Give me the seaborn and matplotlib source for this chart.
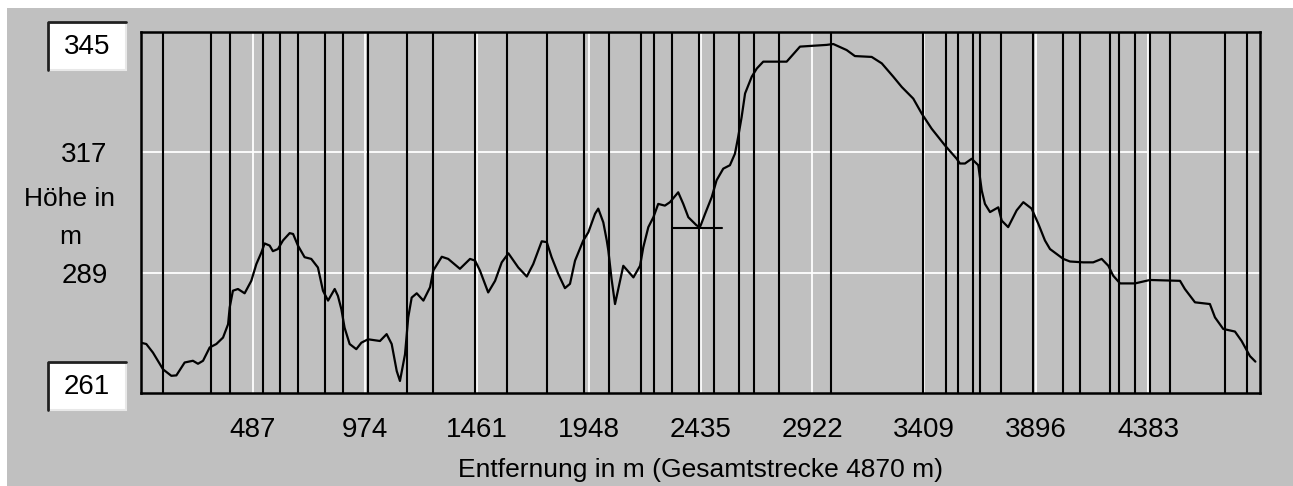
import numpy as np
import matplotlib.pyplot as plt
import matplotlib.patches as mpatches
import seaborn as sns

# Höhenprofil (Entfernung in m, Höhe in m)
entfernung = [0, 23, 52, 96, 132, 154, 190, 226, 248, 270, 299, 328, 357, 379, 386, 400,
              422, 451, 480, 502, 524, 538, 560, 574, 596, 618, 647, 662, 683, 712, 741,
              770, 792, 814, 843, 857, 872, 886, 908, 937, 959, 988, 1040, 1069, 1091,
              1113, 1127, 1149, 1163, 1178, 1200, 1229, 1258, 1272, 1309, 1337, 1388,
              1432, 1454, 1475, 1511, 1541, 1570, 1599, 1642, 1679, 1707, 1744, 1766,
              1787, 1816, 1845, 1867, 1889, 1925, 1947, 1976, 1990, 2012, 2027, 2034,
              2048, 2063, 2099, 2143, 2172, 2186, 2208, 2230, 2251, 2280, 2302, 2338,
              2360, 2382, 2418, 2433, 2455, 2484, 2505, 2534, 2563, 2585, 2599, 2614,
              2629, 2658, 2680, 2708, 2810, 2868, 2984, 3013, 3071, 3107, 3180, 3224,
              3274, 3311, 3361, 3398, 3441, 3499, 3550, 3564, 3586, 3615, 3644, 3659,
              3673, 3695, 3731, 3746, 3774, 3811, 3840, 3876, 3905, 3934, 3956, 4014,
              4043, 4101, 4144, 4181, 4210, 4231, 4261, 4326, 4391, 4522, 4543, 4587,
              4652, 4674, 4710, 4761, 4790, 4826, 4850]
hoehe = [272.7, 272.4, 270.4, 266.5, 265.0, 265.1, 268.1, 268.5, 267.8, 268.5, 271.6,
         272.4, 273.9, 277.0, 280.9, 284.8, 285.2, 284.2, 287.1, 291.0, 293.7, 295.8,
         295.3, 294.0, 294.5, 296.5, 298.2, 298.0, 295.3, 292.6, 292.2, 290.2, 284.8,
         282.5, 285.2, 283.6, 280.5, 276.2, 272.4, 271.2, 272.7, 273.5, 273.1, 274.7,
         272.4, 266.1, 263.8, 270.0, 278.6, 283.2, 284.2, 282.5, 285.6, 289.5, 292.7,
         292.2, 289.9, 292.2, 291.8, 289.5, 284.4, 287.1, 291.4, 293.5, 290.2, 288.1,
         291.0, 296.3, 296.1, 292.6, 288.7, 285.4, 286.4, 291.8, 296.5, 298.4, 302.7,
         303.9, 300.7, 296.5, 294.1, 287.5, 281.7, 290.6, 287.9, 290.6, 294.9, 299.6,
         301.9, 305.0, 304.6, 305.4, 307.7, 305.0, 301.9, 300.0, 299.6, 302.7, 306.6,
         310.5, 313.2, 314.0, 316.7, 320.6, 325.2, 330.7, 334.6, 336.5, 338.1, 338.1,
         341.6, 342.0, 342.2, 340.8, 339.4, 339.2, 337.7, 334.6, 332.2, 329.5, 326.0,
         322.5, 318.6, 315.5, 314.4, 314.4, 315.5, 314.0, 308.1, 305.0, 303.1, 304.2,
         301.1, 299.6, 303.5, 305.4, 303.9, 300.4, 296.5, 294.5, 292.2, 291.6, 291.4,
         291.4, 292.2, 290.6, 288.3, 286.5, 286.5, 287.3, 287.1, 285.2, 282.1, 281.7,
         278.6, 275.9, 275.3, 273.1, 269.6, 268.3]

# senkrechte Markierungen (m)
markierungen = [94, 303, 387, 530, 605, 682, 802, 878, 987, 1159, 1269, 1454, 1594,
                1766, 1929, 2038, 2177, 2233, 2311, 2427, 2492, 2603, 2668, 2777, 3003,
                3405, 3502, 3554, 3621, 3653, 3741, 3881, 4011, 4087, 4217, 4258, 4326,
                4391, 4480, 4717, 4815]

# waagerechte Marke
marke_von_bis = [2310, 2530]
marke_hoehe = 299.5

x_ticks = [487, 974, 1461, 1948, 2435, 2922, 3409, 3896, 4383]
y_ticks = [289, 317]
y_min, y_max = 261, 345
gesamt = 4870

GRAU = '#C0C0C0'
W, H = 1293, 486

sns.set_style('white')
plt.rcParams['font.family'] = ['Liberation Sans Narrow', 'Liberation Sans', 'DejaVu Sans']
plt.rcParams['text.color'] = 'black'
plt.rcParams['xtick.labelcolor'] = 'black'
plt.rcParams['ytick.labelcolor'] = 'black'

fig = plt.figure(figsize=(W / 100, H / 100), dpi=100)
fig.patch.set_facecolor(GRAU)
# weißer Rand oben und links
fig.add_artist(mpatches.Rectangle((0, 1 - 8 / H), 1, 8 / H, transform=fig.transFigure,
                                  facecolor='white', edgecolor='none'))
fig.add_artist(mpatches.Rectangle((0, 0), 7 / W, 1, transform=fig.transFigure,
                                  facecolor='white', edgecolor='none'))

ax = fig.add_axes([141 / W, 1 - 393 / H, 1119 / W, 361 / H])
ax.set_facecolor(GRAU)

for m in markierungen:
    ax.axvline(m, color='black', lw=1.5, zorder=2)

sns.lineplot(x=entfernung, y=hoehe, color='black', lw=1.6, ax=ax, zorder=3)
ax.plot(marke_von_bis, [marke_hoehe, marke_hoehe], color='black', lw=1.5, zorder=3)

ax.set_xlim(0, gesamt)
ax.set_ylim(y_min, y_max)
ax.set_xticks(x_ticks)
ax.set_xticklabels([str(t) for t in x_ticks])
ax.set_yticks(y_ticks)
ax.set_yticklabels([str(t) for t in y_ticks])
ax.tick_params(axis='x', length=0, pad=17, labelsize=20, labelcolor='black')
ax.tick_params(axis='y', length=0, pad=24, labelsize=20, labelcolor='black')
ax.xaxis.grid(True, color='white', lw=1.3, zorder=1)
ax.yaxis.grid(True, color='white', lw=1.3, zorder=1)
ax.set_axisbelow(True)
for s in ax.spines.values():
    s.set_visible(True)
    s.set_color('black')
    s.set_linewidth(1.8)
ax.set_xlabel('')
ax.set_ylabel('')

# Eingabefelder für min/max Höhe
for wert, ytop in [(y_max, 22), (y_min, 362)]:
    x0, bw, bh = 48, 78, 48
    fig.add_artist(mpatches.Rectangle((x0 / W, 1 - (ytop + bh) / H), bw / W, bh / H,
                                      transform=fig.transFigure, facecolor='white',
                                      edgecolor='#E8E8E8', lw=1.5))
    fig.add_artist(plt.Line2D([x0 / W, x0 / W, (x0 + bw) / W],
                              [1 - (ytop + bh) / H, 1 - ytop / H, 1 - ytop / H],
                              transform=fig.transFigure, color='#202020', lw=2))
    fig.text((x0 + bw / 2) / W, 1 - (ytop + bh / 2 + 1) / H, str(wert), fontsize=20,
             ha='center', va='center', color='black')

fig.text(70 / W, 1 - 218 / H, 'Höhe in\nm', fontsize=19, ha='center', va='center',
         linespacing=1.7, color='black')
fig.text(700 / W, 1 - 470 / H, 'Entfernung in m (Gesamtstrecke 4870 m)', fontsize=19,
         ha='center', va='center', color='black')

fig.savefig('out.png', dpi=100, facecolor=fig.get_facecolor())
